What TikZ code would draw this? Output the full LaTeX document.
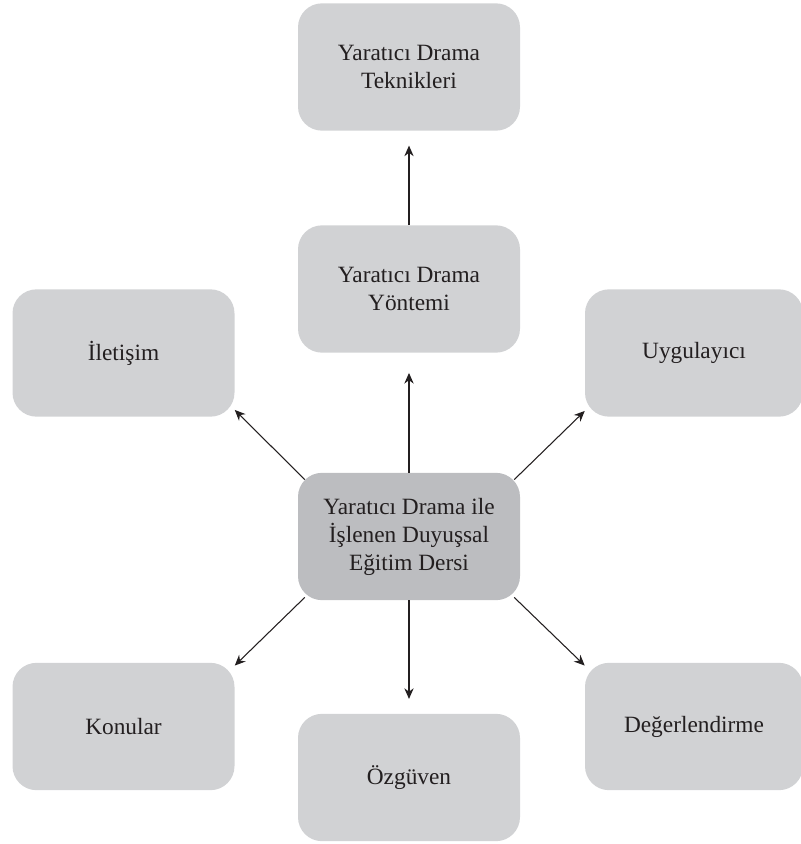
\documentclass[tikz,border=0pt]{standalone}
\usepackage{fontspec}
\setmainfont{Liberation Serif}
\usetikzlibrary{arrows.meta,positioning,calc}
\definecolor{boxgray}{RGB}{209,210,212}
\definecolor{hubgray}{RGB}{188,189,192}
\definecolor{inkgray}{RGB}{35,31,32}
\tikzset{
  topic/.style={rectangle,rounded corners=18pt,fill=boxgray,minimum width=166.5pt,minimum height=95.5pt,
    align=center,text=inkgray,font=\fontsize{17.5}{21}\selectfont,inner sep=0pt},
  hub/.style={topic,fill=hubgray},
  link/.style={->,draw=inkgray,line width=0.8pt}
}

\begin{document}
\begin{tikzpicture}[x=0.75pt,y=-0.75pt,>={Stealth[length=8pt,width=7pt]}]
  \useasboundingbox (0,0) rectangle (801,844);
  \clip (0,0) rectangle (801,844);
  % centre
  \node[hub] (merkez) at (409,536.5) {Yaratıcı Drama ile\\İşlenen Duyuşsal\\Eğitim Dersi};
  % upper column
  \node[topic] (yontem) at (409,289) {Yaratıcı Drama\\Yöntemi};
  \node[topic] (teknik) at (409,67) {Yaratıcı Drama\\Teknikleri};
  % sides
  \node[topic] (iletisim) at (123.5,353) {İletişim};
  \node[topic,minimum width=163.5pt] (uygulayici) at (694,353) {Uygulayıcı};
  \node[topic] (konular) at (123.5,726.5) {Konular};
  \node[topic,minimum width=163.5pt] (degerlendirme) at (694,726.5) {Değerlendirme};
  \node[topic] (ozguven) at (409,777.5) {Özgüven};

  % arrows
  \draw[link,shorten >=11pt] (yontem.north) -- (teknik.south);
  \draw[link,shorten >=15pt] (merkez.north) -- (yontem.south);
  \draw[link,shorten >=11pt] (merkez.south) -- (ozguven.north);
  \draw[link] ([shift={(7,7)}]merkez.north west) -- ([shift={(0,-7)}]iletisim.south east);
  \draw[link] ([shift={(-6,7)}]merkez.north east) -- ([shift={(0,-6)}]uygulayici.south west);
  \draw[link] ([shift={(7,-3)}]merkez.south west) -- ([shift={(0,3)}]konular.north east);
  \draw[link] ([shift={(-6,-3)}]merkez.south east) -- ([shift={(0,3)}]degerlendirme.north west);
\end{tikzpicture}
\end{document}
